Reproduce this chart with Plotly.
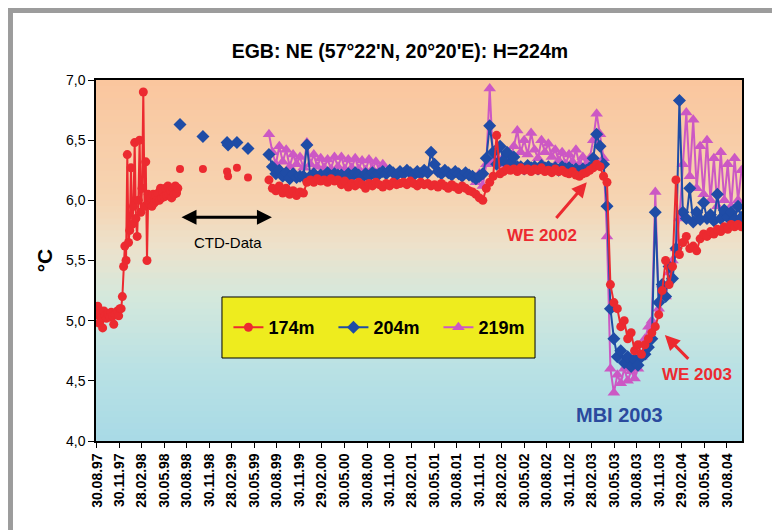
import plotly.graph_objects as go
import pandas as pd

# ---------------- data ----------------
tick_dates = ["1997-08-30", "1997-11-30", "1998-02-28", "1998-05-30", "1998-08-30", "1998-11-30",
              "1999-02-28", "1999-05-30", "1999-08-30", "1999-11-30", "2000-02-29", "2000-05-30",
              "2000-08-30", "2000-11-30", "2001-02-28", "2001-05-30", "2001-08-30", "2001-11-30",
              "2002-02-28", "2002-05-30", "2002-08-30", "2002-11-30", "2003-02-28", "2003-05-30",
              "2003-08-30", "2003-11-30", "2004-02-29", "2004-05-30", "2004-08-30"]
tick_labels = ["30.08.97", "30.11.97", "28.02.98", "30.05.98", "30.08.98", "30.11.98",
               "28.02.99", "30.05.99", "30.08.99", "30.11.99", "29.02.00", "30.05.00",
               "30.08.00", "30.11.00", "28.02.01", "30.05.01", "30.08.01", "30.11.01",
               "28.02.02", "30.05.02", "30.08.02", "30.11.02", "28.02.03", "30.05.03",
               "30.08.03", "30.11.03", "29.02.04", "30.05.04", "30.08.04"]

# 174m, first deployment (5-day sampling from 1997-08-28)
red_a_start = "1997-08-28"
red_a_vals = [5.05, 5.12, 4.98, 5.06, 5.03, 4.94, 5.08, 5.04, 5.02, 5.06, 5.05, 5.03, 5.07, 5.04, 4.97,
              5.05, 5.06, 5.08, 5.04, 5.10,
              5.10, 5.20, 5.45, 5.62, 5.50, 6.38, 5.65, 5.75, 6.27, 5.80, 5.95, 6.48, 5.85, 5.70,
              6.00, 6.50, 5.90, 6.10, 6.90, 5.95, 6.32, 5.50,
              6.05, 5.97, 6.02, 5.95, 6.05, 5.98, 6.04, 6.00, 6.06, 6.00, 6.10, 6.02, 6.07, 6.03,
              6.10, 6.04, 6.12, 6.05, 6.08, 6.02, 6.10, 6.05, 6.12, 6.06, 6.10]

# CTD casts
ctd_dates = ["1998-08-02", "1998-11-03", "1999-02-09", "1999-02-13", "1999-03-21", "1999-05-05"]
ctd_174 = [6.26, 6.26, 6.24, 6.20, 6.27, 6.19]
ctd_204 = [6.63, 6.53, 6.48, 6.46, 6.48, 6.43]

# moorings from 1999-07-29 (14-day sampling)
b_start = "1999-07-29"
red_b = [6.17, 6.10, 6.08, 6.12, 6.06, 6.10, 6.05, 6.08, 6.04, 6.07,
         6.06, 6.15, 6.17, 6.15, 6.18, 6.16, 6.17, 6.15, 6.18, 6.16, 6.17,
         6.13, 6.16, 6.11, 6.14, 6.12, 6.15, 6.13, 6.10, 6.14, 6.12, 6.15, 6.13, 6.11, 6.14, 6.12, 6.15, 6.13, 6.14,
         6.15, 6.13, 6.16, 6.14, 6.12, 6.15, 6.13, 6.14, 6.12, 6.13, 6.11, 6.14, 6.12, 6.10, 6.13, 6.11, 6.09, 6.12, 6.10, 6.08,
         6.07, 6.05, 6.02, 6.00, 6.10, 6.15,
         6.20, 6.54, 6.22, 6.24, 6.26, 6.25,
         6.26, 6.24, 6.27, 6.25, 6.26, 6.24, 6.26, 6.25, 6.27, 6.24, 6.25, 6.23, 6.26, 6.24, 6.25, 6.23, 6.22, 6.24, 6.21, 6.20, 6.22, 6.23, 6.25,
         6.27, 6.30, 6.28, 6.20, 6.15,
         5.30, 5.15, 5.10, 4.95, 5.00, 4.85, 4.90, 4.75, 4.80, 4.72, 4.80, 4.85, 4.90, 4.95, 5.05, 5.25, 5.50, 5.30, 5.45,
         6.17, 5.55, 5.65, 5.70, 5.60, 5.62, 5.58, 5.68, 5.72, 5.70, 5.74, 5.72, 5.76, 5.74, 5.78, 5.76, 5.80, 5.78, 5.80, 5.78]
blue_b = [6.38, 6.28, 6.22, 6.25, 6.20, 6.23, 6.18, 6.22, 6.19, 6.20,
          6.20, 6.46, 6.20, 6.22, 6.19, 6.21, 6.20, 6.23, 6.20, 6.22, 6.21,
          6.21, 6.19, 6.22, 6.20, 6.23, 6.21, 6.19, 6.22, 6.20, 6.23, 6.21, 6.22,
          6.24, 6.22, 6.25, 6.23, 6.21, 6.24, 6.22, 6.25, 6.23, 6.21, 6.24, 6.22, 6.25, 6.23, 6.40, 6.30, 6.24, 6.22, 6.25, 6.23, 6.21, 6.24, 6.22, 6.20, 6.23, 6.21,
          6.20, 6.18, 6.20, 6.22, 6.35, 6.62,
          6.40, 6.30, 6.45, 6.33, 6.40, 6.30, 6.36, 6.28,
          6.28, 6.26, 6.29, 6.27, 6.28, 6.26, 6.29, 6.27, 6.28, 6.26, 6.27, 6.25, 6.28, 6.26, 6.27, 6.25, 6.26, 6.24, 6.26, 6.25, 6.27,
          6.35, 6.55, 6.45, 6.30, 5.95,
          5.10, 4.85, 4.70, 4.75, 4.65, 4.70, 4.62, 4.68, 4.63, 4.70, 4.72, 4.78, 4.85,
          5.90, 5.15, 5.30, 5.20, 5.45, 5.35, 5.60, 6.83, 5.90, 5.85, 6.10, 5.82, 5.90, 5.84, 5.98, 5.85, 5.88, 5.83, 6.05, 5.85, 5.92, 5.86, 5.90, 5.84, 5.95, 5.86]
magenta_b = [6.55,
             6.40, 6.30, 6.45, 6.32, 6.42, 6.28, 6.38, 6.30, 6.36, 6.27, 6.48, 6.30, 6.38, 6.28, 6.35, 6.27, 6.34, 6.26, 6.36, 6.28,
             6.36, 6.26, 6.34, 6.27, 6.35, 6.26, 6.33, 6.25, 6.34, 6.26, 6.32, 6.25, 6.30,
             None, None, None, None, None, None, None, None, None, None, None, None, None,
             None, None, None, None, None, None, None, None, None, None, None, None,
             6.20, 6.15, 6.22, 6.12, 6.30, 6.93,
             6.32, 6.35, 6.30, 6.36, 6.30, 6.35,
             6.45, 6.58, 6.40, 6.50, 6.38, 6.56, 6.42, 6.35, 6.50, 6.40, 6.47, 6.36, 6.42, 6.33, 6.40, 6.30, 6.38, 6.32, 6.42, 6.30, 6.36, 6.30, 6.35,
             6.50, 6.72, 6.55, 6.35, 5.70,
             4.60, 4.40, 4.55, 4.48, 4.60, 4.50, 4.58, 4.52, 4.60, 4.70, 4.85, 4.95, 5.00,
             6.07, 5.10, 5.30, 5.20, 5.40, 5.50, 5.60, 5.85, 6.30, 6.73, 6.20, 6.67, 6.10, 6.45, 6.05, 6.50, 6.00, 6.35, 5.95, 6.40, 6.00, 6.30, 5.95, 6.35, 6.00, 6.25]

red_a_dates = pd.date_range(red_a_start, periods=len(red_a_vals), freq="5D")
b_dates = pd.date_range(b_start, periods=len(red_b), freq="14D")

RED = "#EC2A30"
BLUE = "#1F4CA6"
MAG = "#CC58C4"
FONT = "Arial, Liberation Sans, sans-serif"

fig = go.Figure()

# drawing order: 219m at the back, 174m in front
fig.add_trace(go.Scatter(x=b_dates, y=magenta_b, name="219m", mode="lines+markers",
                         line=dict(color=MAG, width=2),
                         marker=dict(symbol="triangle-up", size=11, color=MAG),
                         legendrank=3))
fig.add_trace(go.Scatter(x=ctd_dates, y=ctd_204, mode="markers", showlegend=False,
                         marker=dict(symbol="diamond", size=10, color=BLUE)))
fig.add_trace(go.Scatter(x=b_dates, y=blue_b, name="204m", mode="lines+markers",
                         line=dict(color=BLUE, width=2),
                         marker=dict(symbol="diamond", size=10, color=BLUE),
                         legendrank=2))
fig.add_trace(go.Scatter(x=ctd_dates, y=ctd_174, mode="markers", showlegend=False,
                         marker=dict(symbol="circle", size=8, color=RED)))
fig.add_trace(go.Scatter(x=red_a_dates, y=red_a_vals, name="174m", mode="lines+markers",
                         line=dict(color=RED, width=2),
                         marker=dict(symbol="circle", size=9, color=RED),
                         legendrank=1))
fig.add_trace(go.Scatter(x=b_dates, y=red_b, mode="lines+markers", showlegend=False,
                         line=dict(color=RED, width=2),
                         marker=dict(symbol="circle", size=9, color=RED)))

# ---------------- background gradient ----------------
stops = [(4.0, (168, 218, 230)), (4.6, (185, 225, 228)), (5.2, (212, 232, 220)),
         (5.6, (236, 226, 204)), (6.0, (246, 212, 178)), (7.0, (250, 198, 158))]


def col_at(v):
    for (a, ca), (b, cb) in zip(stops[:-1], stops[1:]):
        if a <= v <= b:
            t = (v - a) / (b - a)
            c = [round(ca[k] + (cb[k] - ca[k]) * t) for k in range(3)]
            return "rgb(%d,%d,%d)" % tuple(c)
    return "rgb(%d,%d,%d)" % stops[-1][1]


shapes = []
n = 60
for k in range(n):
    y0 = 4.0 + 3.0 * k / n
    y1 = 4.0 + 3.0 * (k + 1) / n
    shapes.append(dict(type="rect", xref="paper", yref="y", x0=0, x1=1, y0=y0,
                       y1=min(y1 + 0.03, 7.0),
                       fillcolor=col_at((y0 + y1) / 2), line=dict(width=0), layer="below"))
# legend box
shapes.append(dict(type="rect", xref="paper", yref="paper", x0=0.195, x1=0.6796, y0=0.2299, y1=0.3989,
                   fillcolor="#EEEC1E", line=dict(color="black", width=1), layer="below"))
# outer grey frame
shapes.append(dict(type="rect", xref="paper", yref="paper", x0=-0.1362, x1=1.0464, y0=1.1856, y1=1.1994,
                   fillcolor="#9C9C9C", line=dict(width=0)))
shapes.append(dict(type="rect", xref="paper", yref="paper", x0=-0.1362, x1=-0.1285, y0=-0.2465, y1=1.1994,
                   fillcolor="#9C9C9C", line=dict(width=0)))

annotations = [
    dict(x="1999-08-10", y=5.86, ax="1998-08-02", ay=5.86, xref="x", yref="y", axref="x", ayref="y",
         text="", showarrow=True, arrowhead=2, startarrowhead=2, arrowside="end+start",
         arrowsize=1, startarrowsize=1, arrowwidth=3, arrowcolor="black"),
    dict(x="1999-02-13", y=5.65, xref="x", yref="y", text="CTD-Data", showarrow=False,
         font=dict(family=FONT, size=15, color="black")),
    dict(x="2003-02-08", y=6.15, ax="2002-10-02", ay=5.84, xref="x", yref="y", axref="x", ayref="y",
         text="", showarrow=True, arrowhead=2, arrowsize=1, arrowwidth=3, arrowcolor=RED),
    dict(x="2002-08-10", y=5.71, xref="x", yref="y", text="<b>WE 2002</b>", showarrow=False,
         font=dict(family=FONT, size=17, color=RED)),
    dict(x="2003-12-22", y=4.88, ax="2004-04-01", ay=4.67, xref="x", yref="y", axref="x", ayref="y",
         text="", showarrow=True, arrowhead=2, arrowsize=1, arrowwidth=3, arrowcolor=RED),
    dict(x="2004-04-30", y=4.55, xref="x", yref="y", text="<b>WE 2003</b>", showarrow=False,
         font=dict(family=FONT, size=17, color=RED)),
    dict(x="2003-06-21", y=4.215, xref="x", yref="y", text="<b>MBI 2003</b>", showarrow=False,
         font=dict(family=FONT, size=20, color="#2A4A9E")),
]

fig.update_layout(
    width=772, height=530,
    margin=dict(l=96, r=30, t=80, b=89),
    paper_bgcolor="white", plot_bgcolor="white",
    separators=",.",
    font=dict(family=FONT, color="black"),
    title=dict(text="<b>EGB: NE (57°22'N, 20°20'E): H=224m</b>", x=0.518, xanchor="center",
               y=1 - 51 / 530, yanchor="middle", font=dict(size=19.5, family=FONT, color="black")),
    xaxis=dict(type="date", range=["1997-08-26", "2004-10-30"], tickmode="array",
               tickvals=tick_dates, ticktext=["<b>%s</b>" % t for t in tick_labels], tickangle=-90,
               tickfont=dict(size=14, family=FONT), ticks="outside", ticklen=5, tickcolor="black",
               showline=True, linecolor="black", linewidth=1.5, mirror=True, showgrid=False,
               zeroline=False),
    yaxis=dict(range=[4.0, 7.0], tickvals=[4.0, 4.5, 5.0, 5.5, 6.0, 6.5, 7.0], tickformat=".1f",
               tickfont=dict(size=14, family=FONT), ticks="outside", ticklen=6, tickcolor="black",
               showline=True, linecolor="black", linewidth=1.5, mirror=True, showgrid=False,
               zeroline=False,
               title=dict(text="<b>°C</b>", font=dict(size=21, family=FONT), standoff=8)),
    legend=dict(orientation="h", x=0.205, y=0.3144, xanchor="left", yanchor="middle",
                bgcolor="rgba(0,0,0,0)", font=dict(size=18, family=FONT, color="black"),
                entrywidth=60, entrywidthmode="pixels", itemwidth=30),
    shapes=shapes,
    annotations=annotations,
    showlegend=True,
)
# bold legend names
for tr in fig.data:
    if tr.name:
        tr.name = "<b>%s</b>" % tr.name

fig.write_html("out.html", config={"displayModeBar": False})
